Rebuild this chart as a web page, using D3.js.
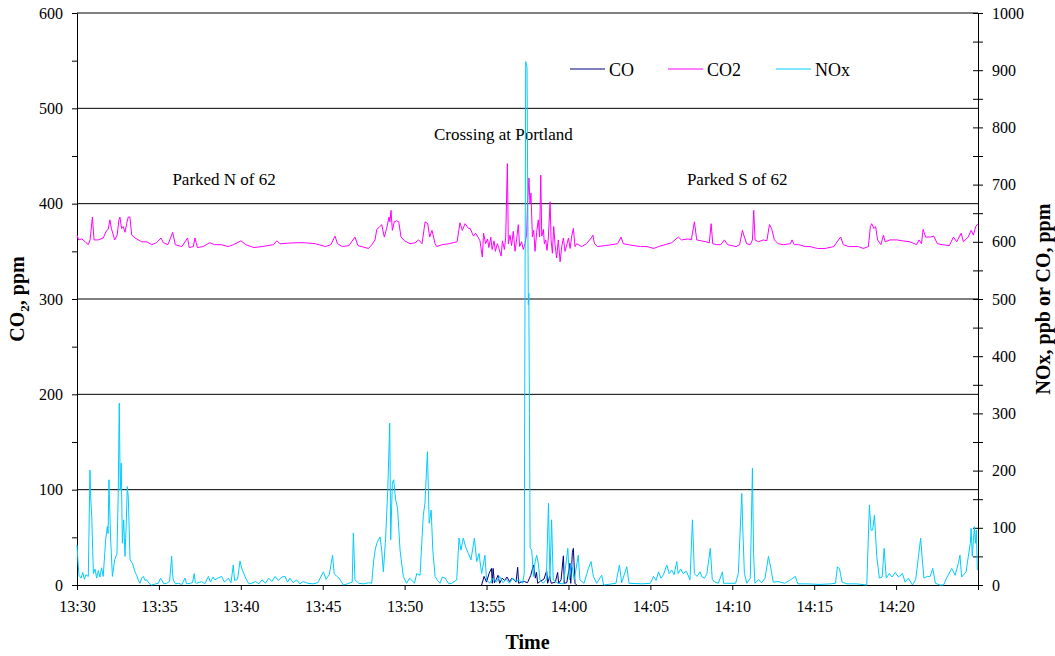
<!DOCTYPE html>
<html>
<head>
<meta charset="utf-8">
<script src="https://cdn.jsdelivr.net/npm/d3@7"></script>
<style>
  body { margin: 0; background: #fff; }
  text { font-family: "Liberation Serif", "Times New Roman", serif; fill: #000; }
</style>
</head>
<body>
<svg id="chart" width="1055" height="656"></svg>
<script>
// Time axis: minutes after 13:30
const startTime = new Date(2000, 0, 1, 13, 30);
const endTime = new Date(2000, 0, 1, 14, 25);
const timeTickLabels = ["13:30", "13:35", "13:40", "13:45", "13:50", "13:55", "14:00", "14:05", "14:10", "14:15", "14:20"];

// Left axis (CO2, ppm) and right axis (NOx ppb / CO ppm) tick values
const co2TickValues = [0, 50, 100, 150, 200, 250, 300, 350, 400, 450, 500, 550, 600];
const co2GridValues = [100, 200, 300, 400, 500, 600];
const rightTickValues = [0, 50, 100, 150, 200, 250, 300, 350, 400, 450, 500, 550, 600, 650, 700, 750, 800, 850, 900, 950, 1000];

const seriesNames = ["CO", "CO2", "NOx"];
const seriesColors = ["#000080", "#FF00FF", "#00CCFF"];

const annotations = [
  { text: "Parked N of 62", minute: 8.98, value: 420 },
  { text: "Crossing at Portland", minute: 26.03, value: 467 },
  { text: "Parked S of 62", minute: 40.3, value: 420 }
];

// CO2, ppm  [minute, value]
const co2Series = [
  [0.00,367],[0.10,362],[0.30,363],[0.50,360],[0.69,357],[0.80,362],[0.94,386],[1.04,362],[1.30,362],[1.60,364],
  [1.81,372],[1.90,373],[2.01,383],[2.10,374],[2.30,362],[2.45,367],[2.56,383],[2.62,386],[2.72,374],[2.82,376],
  [2.93,370],[3.03,379],[3.13,386],[3.23,386],[3.34,367],[3.55,364],[3.75,362],[3.95,360],[4.26,360],[4.56,357],
  [4.85,359],[5.13,364],[5.27,359],[5.55,357],[5.84,370],[6.00,357],[6.40,355],[6.75,364],[6.85,354],[7.10,355],
  [7.20,364],[7.35,354],[7.70,355],[8.10,359],[8.40,357],[8.80,357],[9.24,355],[9.55,357],[10.01,361],[10.30,357],
  [10.80,354],[11.30,355],[12.00,357],[12.19,361],[12.40,358],[13.30,359],[13.90,359],[14.56,358],[15.17,355],[15.50,357],
  [15.75,366],[15.90,358],[16.20,355],[16.60,356],[16.97,365],[17.15,356],[17.80,353],[18.00,357],[18.19,362],[18.30,373],
  [18.44,375],[18.60,378],[18.76,365],[18.90,374],[19.05,386],[19.10,381],[19.17,393],[19.25,372],[19.37,381],[19.50,382],
  [19.64,381],[19.78,365],[20.00,361],[20.33,358],[20.64,359],[20.86,362],[21.06,358],[21.25,381],[21.41,379],[21.53,365],
  [21.67,372],[21.86,358],[21.96,355],[22.30,357],[22.72,358],[23.20,360],[23.38,380],[23.52,372],[23.69,379],[23.90,374],
  [24.00,374],[24.20,366],[24.33,369],[24.48,365],[24.60,361],[24.74,344],[24.82,369],[24.94,358],[25.06,363],[25.14,354],
  [25.26,365],[25.34,352],[25.46,361],[25.54,350],[25.66,358],[25.74,354],[25.89,345],[25.97,361],[26.09,352],[26.17,365],
  [26.27,442],[26.33,358],[26.43,367],[26.53,356],[26.63,371],[26.74,350],[26.84,363],[26.94,378],[27.02,355],[27.14,360],
  [27.24,352],[27.35,358],[27.45,369],[27.50,400],[27.59,427],[27.65,400],[27.71,411],[27.80,365],[27.88,372],[27.96,350],
  [28.06,370],[28.16,383],[28.24,365],[28.31,430],[28.37,366],[28.47,373],[28.53,358],[28.61,362],[28.69,351],[28.77,364],
  [28.88,402],[28.94,362],[29.02,348],[29.10,376],[29.18,357],[29.28,343],[29.38,362],[29.49,339],[29.59,355],[29.69,364],
  [29.79,350],[29.90,357],[30.00,364],[30.10,353],[30.20,366],[30.30,374],[30.40,355],[30.50,358],[30.80,355],[31.10,358],
  [31.39,364],[31.49,367],[31.59,358],[31.79,355],[32.20,356],[32.66,357],[33.00,358],[33.21,365],[33.35,358],[33.65,357],
  [34.00,356],[34.40,355],[34.80,355],[35.20,353],[35.50,355],[35.90,357],[36.30,359],[36.71,365],[36.90,362],[37.30,363],
  [37.50,362],[37.69,381],[37.83,362],[38.10,361],[38.40,360],[38.60,359],[38.71,379],[38.81,358],[39.05,357],[39.30,357],
  [39.52,362],[39.72,357],[40.23,355],[40.45,357],[40.62,372],[40.74,365],[40.88,358],[41.10,357],[41.23,362],[41.31,393],
  [41.39,362],[41.60,360],[41.90,362],[42.11,361],[42.27,378],[42.40,374],[42.57,362],[42.80,358],[43.13,357],[43.55,358],
  [43.65,362],[43.78,357],[44.05,357],[44.45,355],[44.75,355],[45.20,353],[45.67,353],[46.20,355],[46.48,362],[46.62,365],
  [46.78,357],[47.10,355],[47.70,355],[48.00,353],[48.31,355],[48.43,376],[48.51,379],[48.65,374],[48.75,376],[48.87,362],
  [49.07,357],[49.23,367],[49.33,360],[49.63,362],[50.05,362],[50.40,361],[50.85,360],[51.25,357],[51.40,362],[51.55,358],
  [51.65,373],[51.80,365],[52.10,365],[52.30,366],[52.52,358],[52.82,357],[53.25,356],[53.50,365],[53.70,360],[53.97,369],
  [54.11,360],[54.40,365],[54.58,372],[54.72,367],[54.86,376],[54.99,379]
];

// NOx, ppb  [minute, value]
const noxSeries = [
  [0.00,70],[0.05,45],[0.12,17],[0.25,12],[0.35,22],[0.45,10],[0.55,18],[0.69,15],[0.79,201],[0.84,150],
  [0.90,120],[1.00,20],[1.10,28],[1.20,12],[1.30,25],[1.40,14],[1.50,30],[1.60,15],[1.75,79],[1.85,102],
  [1.90,90],[1.95,184],[2.04,90],[2.16,15],[2.30,44],[2.44,55],[2.52,166],[2.58,318],[2.64,166],[2.70,213],
  [2.77,73],[2.85,114],[2.93,50],[3.00,102],[3.07,172],[3.13,154],[3.24,44],[3.38,38],[3.54,23],[3.64,17],
  [3.75,8],[3.85,3],[3.95,12],[4.05,15],[4.15,8],[4.26,9],[4.40,3],[4.56,0],[4.80,2],[4.97,3],
  [5.10,12],[5.17,9],[5.30,2],[5.47,3],[5.65,6],[5.78,50],[5.83,20],[5.88,9],[6.00,2],[6.20,3],
  [6.40,1],[6.59,12],[6.70,2],[6.90,3],[7.05,4],[7.16,20],[7.22,4],[7.30,3],[7.60,6],[7.80,2],
  [8.02,15],[8.15,5],[8.30,14],[8.42,9],[8.60,12],[8.83,15],[9.00,5],[9.24,12],[9.40,4],[9.54,35],
  [9.62,8],[9.80,10],[9.95,42],[10.05,30],[10.25,15],[10.35,9],[10.50,2],[10.66,3],[10.90,6],[11.10,2],
  [11.30,9],[11.50,3],[11.70,12],[11.90,6],[12.09,15],[12.30,8],[12.50,14],[12.70,15],[12.85,5],[13.00,12],
  [13.20,4],[13.40,9],[13.60,2],[13.80,6],[14.10,3],[14.40,2],[14.70,4],[15.04,23],[15.20,10],[15.40,18],
  [15.60,52],[15.70,20],[15.86,15],[16.00,12],[16.26,0],[16.50,2],[16.80,5],[16.87,91],[16.97,9],[17.20,3],
  [17.50,2],[17.80,4],[17.99,3],[18.10,40],[18.20,61],[18.30,73],[18.50,84],[18.60,61],[18.70,23],[18.84,82],
  [18.97,166],[19.09,283],[19.15,79],[19.25,178],[19.33,184],[19.45,149],[19.57,134],[19.72,61],[19.92,15],[20.12,3],
  [20.30,12],[20.42,9],[20.60,3],[20.74,20],[20.94,17],[21.14,122],[21.24,143],[21.39,233],[21.50,108],[21.62,131],
  [21.72,61],[21.86,15],[22.00,8],[22.16,3],[22.30,14],[22.47,12],[22.70,2],[22.88,3],[23.18,9],[23.32,82],
  [23.44,61],[23.58,82],[23.72,67],[23.89,55],[24.05,44],[24.26,82],[24.40,41],[24.54,55],[24.70,20],[24.90,52],
  [25.00,9],[25.20,3],[25.40,12],[25.60,5],[25.80,15],[26.00,4],[26.20,10],[26.40,3],[26.60,12],[26.80,6],
  [27.00,9],[27.20,3],[27.30,20],[27.39,915],[27.47,905],[27.53,600],[27.55,490],[27.58,510],[27.62,300],[27.66,65],
  [27.76,61],[27.86,15],[27.96,40],[28.06,52],[28.16,38],[28.26,9],[28.46,3],[28.65,9],[28.78,143],[28.87,9],
  [28.97,114],[29.07,9],[29.37,3],[29.70,2],[29.96,64],[30.06,9],[30.20,38],[30.35,9],[30.60,52],[30.70,9],
  [30.95,3],[31.22,29],[31.38,41],[31.52,15],[31.72,3],[32.03,17],[32.15,0],[32.90,3],[33.11,35],[33.25,4],
  [33.56,32],[33.70,3],[34.50,2],[35.00,3],[35.19,15],[35.35,8],[35.50,23],[35.65,12],[35.80,18],[36.00,35],
  [36.15,20],[36.30,26],[36.45,18],[36.61,41],[36.70,20],[36.85,28],[37.00,20],[37.20,24],[37.42,9],[37.57,114],
  [37.69,20],[37.85,15],[38.03,23],[38.15,14],[38.30,12],[38.45,20],[38.66,64],[38.78,9],[38.95,5],[39.15,3],
  [39.40,23],[39.47,3],[40.20,3],[40.37,20],[40.58,160],[40.66,84],[40.74,20],[40.89,3],[41.10,12],[41.23,204],
  [41.30,55],[41.38,3],[41.60,9],[41.80,4],[42.00,12],[42.21,50],[42.35,30],[42.50,5],[42.80,6],[43.20,3],
  [43.50,8],[43.85,15],[44.00,2],[44.60,2],[45.30,1],[46.00,2],[46.30,3],[46.42,32],[46.55,28],[46.70,5],
  [47.00,2],[47.60,2],[48.21,0],[48.37,140],[48.47,96],[48.57,96],[48.68,122],[48.82,50],[48.98,12],[49.15,14],
  [49.27,64],[49.40,12],[49.58,20],[49.75,14],[49.95,22],[50.15,14],[50.39,20],[50.55,5],[50.75,12],[51.00,0],
  [51.20,10],[51.50,82],[51.60,44],[51.70,12],[51.90,15],[52.08,15],[52.24,29],[52.40,3],[52.67,0],[52.90,0],
  [53.08,12],[53.40,29],[53.60,17],[53.80,38],[53.90,52],[54.00,14],[54.27,23],[54.41,50],[54.53,73],[54.58,99],
  [54.65,50],[54.78,102],[54.84,73],[54.90,96],[54.96,26]
];

// CO, ppm  [minute, value]
const coSeries = [
  [24.70,0],[24.85,15],[25.00,5],[25.15,20],[25.30,29],[25.35,3],[25.40,29],[25.48,4],[25.60,10],[25.70,17],
  [25.80,3],[25.95,12],[26.10,8],[26.25,14],[26.40,6],[26.55,12],[26.70,8],[26.80,5],[26.90,31],[26.96,3],
  [27.10,5],[27.30,6],[27.50,4],[27.70,17],[27.86,35],[27.92,26],[27.98,12],[28.05,22],[28.12,3],[28.30,7],
  [28.50,10],[28.67,25],[28.73,3],[28.85,15],[28.95,3],[29.20,5],[29.34,22],[29.40,3],[29.55,9],[29.69,51],
  [29.75,3],[29.90,4],[30.09,38],[30.14,3],[30.24,57],[30.30,64],[30.40,3],[30.50,0]
];

const svg = d3.select("#chart");
const plotLeft = 77, plotRight = 978, plotTop = 13, plotBottom = 585;

const toTime = m => new Date(startTime.getTime() + m * 60000);
const parseClock = d3.timeParse("%H:%M");
const timeTicks = timeTickLabels.map(s => {
  const t = parseClock(s);
  return new Date(2000, 0, 1, t.getHours(), t.getMinutes());
});

const x = d3.scaleTime().domain([startTime, endTime]).range([plotLeft, plotRight]);
const yL = d3.scaleLinear().domain([0, 600]).range([plotBottom, plotTop]);
const yR = d3.scaleLinear().domain([0, 1000]).range([plotBottom, plotTop]);

// horizontal gridlines on the CO2 scale
svg.append("g").selectAll("line").data(co2GridValues).join("line")
  .attr("x1", plotLeft).attr("x2", plotRight)
  .attr("y1", d => yL(d)).attr("y2", d => yL(d))
  .attr("stroke", "#000").attr("stroke-width", 1);

function styleAxis(g) {
  g.attr("font-family", null).attr("font-size", null);
  g.select(".domain").attr("stroke", "#000");
  g.selectAll(".tick line").attr("stroke", "#000");
  g.selectAll("text").style("font-size", "16px");
}

// left axis
const axisL = svg.append("g").attr("transform", `translate(${plotLeft},0)`)
  .call(d3.axisLeft(yL).tickValues(co2TickValues).tickSize(5).tickPadding(9)
    .tickFormat(d => d % 100 === 0 ? d : ""));
styleAxis(axisL);

// right axis with crossing ticks
const axisR = svg.append("g").attr("transform", `translate(${plotRight},0)`)
  .call(d3.axisRight(yR).tickValues(rightTickValues).tickSize(5).tickPadding(9)
    .tickFormat(d => d % 100 === 0 ? d : ""));
styleAxis(axisR);
axisR.selectAll(".tick line").attr("x1", -5);

// bottom time axis
const axisB = svg.append("g").attr("transform", `translate(0,${plotBottom})`)
  .call(d3.axisBottom(x).tickValues(timeTicks).tickSize(5).tickPadding(11)
    .tickFormat(d3.timeFormat("%H:%M")));
styleAxis(axisB);

// location notes
svg.append("g").selectAll("text").data(annotations).join("text")
  .attr("x", d => x(toTime(d.minute)))
  .attr("y", d => yL(d.value))
  .attr("text-anchor", "middle")
  .style("font-size", "17px")
  .text(d => d.text);

// series lines
const lineL = d3.line().x(d => x(toTime(d[0]))).y(d => yL(d[1]));
const lineR = d3.line().x(d => x(toTime(d[0]))).y(d => yR(d[1]));

const plot = svg.append("g").attr("fill", "none").attr("stroke-width", 1).attr("stroke-linejoin", "round");
plot.append("path").datum(coSeries).attr("d", lineR).attr("stroke", seriesColors[0]);
plot.append("path").datum(co2Series).attr("d", lineL).attr("stroke", seriesColors[1]);
plot.append("path").datum(noxSeries).attr("d", lineR).attr("stroke", seriesColors[2]);

// legend
const legendX = [570, 668, 776];
const legend = svg.append("g").selectAll("g").data(seriesNames).join("g")
  .attr("transform", (d, i) => `translate(${legendX[i]},69)`);
legend.append("line").attr("x1", 0).attr("x2", 35).attr("y1", 0).attr("y2", 0)
  .attr("stroke", (d, i) => seriesColors[i]).attr("stroke-width", 1);
legend.append("text").attr("x", 39).attr("y", 7).style("font-size", "18px").text(d => d);

// axis titles
const yTitle = svg.append("text")
  .attr("transform", `translate(24,${(plotTop + plotBottom) / 2}) rotate(-90)`)
  .attr("text-anchor", "middle").style("font-size", "20px").style("font-weight", "bold");
yTitle.append("tspan").text("CO");
yTitle.append("tspan").text("2").style("font-size", "13px").attr("dy", 5);
yTitle.append("tspan").text(", ppm").attr("dy", -5);

svg.append("text")
  .attr("transform", `translate(1050,${(plotTop + plotBottom) / 2}) rotate(-90)`)
  .attr("text-anchor", "middle").style("font-size", "20px").style("font-weight", "bold")
  .text("NOx, ppb or CO, ppm");

svg.append("text")
  .attr("x", (plotLeft + plotRight) / 2).attr("y", 649)
  .attr("text-anchor", "middle").style("font-size", "20px").style("font-weight", "bold")
  .text("Time");
</script>
</body>
</html>
